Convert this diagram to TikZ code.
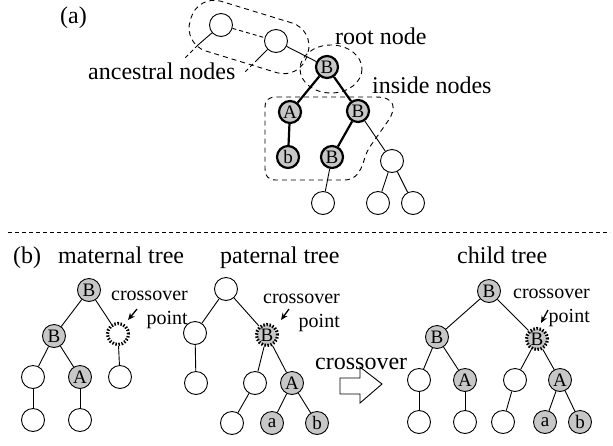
\documentclass[tikz,border=0pt]{standalone}
\usepackage{fontspec}
\setmainfont{Liberation Serif}
\usetikzlibrary{arrows.meta}
\begin{document}
\begin{tikzpicture}[x=1pt,y=-1pt,
  lbl/.style={font=\fontsize{24}{28}\selectfont, inner sep=0pt},
  xolbl/.style={font=\fontsize{20}{24}\selectfont, inner sep=0pt, align=right},
  tn/.style={circle, draw, line width=0.9pt, minimum size=23pt, inner sep=0pt,
             font=\fontsize{19}{19}\selectfont},
  sh/.style={tn, fill=black!22},
  thk/.style={sh, line width=2.2pt, minimum size=22pt},
  xo/.style={tn, line width=3.2pt, dash pattern=on 1.5pt off 1.6pt, minimum size=21pt},
  edge/.style={line width=0.9pt},
  bold/.style={line width=2.2pt},
  encl/.style={dash pattern=on 5pt off 4pt, line width=0.9pt},
  ptr/.style={line width=1.3pt, -{Stealth[length=7pt,width=6pt]}}
]
\useasboundingbox (0,0) rectangle (613,445);

% ---------- (a) ----------
\node[lbl, anchor=base west] (la) at (60,23) {(a)};

% enclosures
\node[encl, draw, rotate=-17, minimum width=122pt, minimum height=52pt,
      rounded corners=24pt] (encA) at (249,37) {};
\draw[encl] (331,69) ellipse [x radius=31, y radius=24];
\draw[encl] (277,97) -- (376,97) .. controls (395,97) and (397,108) .. (388,121)
  -- (369,148) .. controls (362,160) and (363,179) .. (345,180) -- (276,180)
  .. controls (268,180) and (265,176) .. (265,168) -- (265,108)
  .. controls (265,100) and (268,97) .. (277,97);

% tree nodes
\node[tn] (a1) at (221,25) {};
\node[tn] (a2) at (276,41) {};
\node[thk] (r) at (327,67) {B};
\node[thk] (iA) at (290,112) {A};
\node[thk] (iB) at (358,111) {B};
\node[thk] (ib) at (288,157) {b};
\node[thk] (iB2) at (332,157) {B};
\node[tn] (e1) at (392,161) {};
\node[tn] (e2) at (323,203) {};
\node[tn] (e3) at (378,203) {};
\node[tn] (e4) at (413,203) {};

% edges
\draw[edge, dash pattern=on 4pt off 3pt] (a1) -- (a2);
\draw[edge] (a2) -- (r);
\draw[bold] (r) -- (iA);
\draw[bold] (r) -- (iB);
\draw[bold] (iA) -- (ib);
\draw[bold] (iB) -- (iB2);
\draw[edge] (iB) -- (e1);
\draw[edge] (iB2) -- (e2);
\draw[edge] (e1) -- (e3);
\draw[edge] (e1) -- (e4);

% pointers to the ancestral label
\coordinate (p1) at (198,45);
\coordinate (q1) at (185,58);
\coordinate (p2) at (258,59);
\coordinate (q2) at (244,73);
\draw[edge] (a1) -- (p1);
\draw[edge, dash pattern=on 4pt off 3pt] (p1) -- (q1);
\draw[edge] (a2) -- (p2);
\draw[edge, dash pattern=on 4pt off 3pt] (p2) -- (q2);

\node[lbl, anchor=base west] (lanc) at (88,79) {ancestral nodes};
\node[lbl, anchor=base west] (lroot) at (335,44) {root node};
\node[lbl, anchor=base west] (lins) at (372,93) {inside nodes};

% separator
\coordinate (s1) at (8,232);
\coordinate (s2) at (610,232);
\draw[line width=0.9pt, dash pattern=on 4pt off 3pt] (s1) -- (s2);

% ---------- (b) ----------
\node[lbl, anchor=base west] (lb) at (13,263) {(b)};
\node[lbl, anchor=base west] (lmat) at (58,263) {maternal tree};
\node[lbl, anchor=base west] (lpat) at (220,263) {paternal tree};
\node[lbl, anchor=base west] (lchi) at (457,263) {child tree};

% maternal tree
\node[sh] (m1) at (89,290) {B};
\node[sh] (m2) at (54,336) {B};
\node[xo] (m3) at (118,334) {};
\node[tn] (m4) at (33,377) {};
\node[sh] (m5) at (80,377) {A};
\node[tn] (m6) at (120,377) {};
\node[tn] (m7) at (33,420) {};
\node[tn] (m8) at (80,420) {};
\draw[edge] (m1) -- (m2);
\draw[edge] (m1) -- (m3);
\draw[edge] (m2) -- (m4);
\draw[edge] (m2) -- (m5);
\draw[edge] (m3) -- (m6);
\draw[edge] (m4) -- (m7);
\draw[edge] (m5) -- (m8);

\node[xolbl, anchor=north east] (xm) at (188,291) {crossover\\point};
\coordinate (xmt) at (128,320);
\draw[ptr] (137,309) -- (xmt);

% paternal tree
\node[tn] (p1n) at (226,289) {};
\node[tn] (p2n) at (195,333) {};
\node[sh, xo] (p3n) at (267,335) {B};
\node[tn] (p4n) at (196,383) {};
\node[tn] (p5n) at (255,383) {};
\node[sh] (p6n) at (292,383) {A};
\node[tn] (p7n) at (232,423) {};
\node[sh] (p8n) at (272,423) {a};
\node[sh] (p9n) at (317,423) {b};
\draw[edge] (p1n) -- (p2n);
\draw[edge] (p1n) -- (p3n);
\draw[edge] (p2n) -- (p4n);
\draw[edge] (p3n) -- (p5n);
\draw[edge] (p3n) -- (p6n);
\draw[edge] (p5n) -- (p7n);
\draw[edge] (p6n) -- (p8n);
\draw[edge] (p6n) -- (p9n);

\node[xolbl, anchor=north east] (xp) at (340,294) {crossover\\point};
\coordinate (xpt) at (281,320);
\draw[ptr] (289,309) -- (xpt);

% crossover block arrow
\draw[line width=0.9pt] (340,378) -- (360,378) -- (360,367) -- (382,384)
  -- (360,403) -- (360,394) -- (340,394) -- cycle;
\node[lbl, anchor=base west] (lxo) at (315,369) {crossover};

% child tree
\node[sh] (c1) at (489,291) {B};
\node[sh] (c2) at (437,337) {B};
\node[sh, xo] (c3) at (537,339) {B};
\node[tn] (c4) at (419,380) {};
\node[sh] (c5) at (465,380) {A};
\node[tn] (c6) at (515,380) {};
\node[sh] (c7) at (560,380) {A};
\node[tn] (c8) at (419,422) {};
\node[tn] (c9) at (465,422) {};
\node[tn] (c10) at (503,422) {};
\node[sh] (c11) at (545,422) {a};
\node[sh] (c12) at (580,422) {b};
\draw[edge] (c1) -- (c2);
\draw[edge] (c1) -- (c3);
\draw[edge] (c2) -- (c4);
\draw[edge] (c2) -- (c5);
\draw[edge] (c3) -- (c6);
\draw[edge] (c3) -- (c7);
\draw[edge] (c4) -- (c8);
\draw[edge] (c5) -- (c9);
\draw[edge] (c6) -- (c10);
\draw[edge] (c7) -- (c11);
\draw[edge] (c7) -- (c12);

\node[xolbl, anchor=north east] (xc) at (590,289) {crossover\\point};
\coordinate (xct) at (541,323);
\draw[ptr] (548,310) -- (xct);

\end{tikzpicture}
\end{document}
